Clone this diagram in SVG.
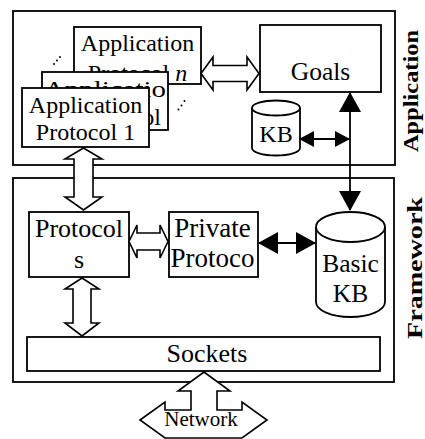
<svg xmlns="http://www.w3.org/2000/svg" width="425" height="439" viewBox="0 0 425 439">
<style>
  .t { font-family: 'Liberation Serif', 'Tinos', 'Times New Roman', 'DejaVu Serif', serif; fill: #000; }
  .box { fill: #fff; stroke: #000; stroke-width: 1.8; }
  .outer { fill: none; stroke: #000; stroke-width: 1.8; }
  .hollow { fill: #fff; stroke: #000; stroke-width: 1.6; stroke-linejoin: miter; }
  .lbl { font-size: 24px; text-anchor: middle; }
  .big { font-size: 25.5px; }
  .big26 { font-size: 26px; }
  .big27 { font-size: 27px; }
  .start { text-anchor: start; }
  .end { text-anchor: end; }
  .side { font-size: 20px; font-weight: bold; text-anchor: middle; }
  .solid { stroke: #000; stroke-width: 1.8; fill: none; }
  .dot { fill: #000; }
</style>
<defs>
  <marker id="ah" markerUnits="userSpaceOnUse" markerWidth="20" markerHeight="22" refX="19" refY="11" orient="auto-start-reverse">
    <path d="M0,0 L20,11 L0,22 z" fill="#000"/>
  </marker>
  <marker id="ahs" markerUnits="userSpaceOnUse" markerWidth="15" markerHeight="16" refX="14" refY="8" orient="auto-start-reverse">
    <path d="M0,0 L15,8 L0,16 z" fill="#000"/>
  </marker>
</defs>
<rect width="425" height="439" fill="#fff"/>

<g id="application-layer">
  <rect class="outer" x="13" y="11" width="382" height="154"/>
  <text class="t side" transform="translate(418,91) rotate(-90)" textLength="122" lengthAdjust="spacingAndGlyphs">Application</text>
</g>
<g id="framework-layer">
  <rect class="outer" x="13" y="178" width="381" height="204"/>
  <text class="t side" transform="translate(422,268) rotate(-90)" textLength="142" lengthAdjust="spacingAndGlyphs">Framework</text>
</g>

<g id="app-protocol-n">
  <rect class="box" x="74" y="27" width="127" height="57"/>
  <text class="t lbl" x="137.5" y="51">Application</text>
  <text class="t lbl" x="137.5" y="81">Protocol <tspan font-style="italic">n</tspan></text>
</g>
<g id="dots">
  <circle class="dot" cx="54" cy="64" r="1"/>
  <circle class="dot" cx="57" cy="60.5" r="1"/>
  <circle class="dot" cx="60" cy="57" r="1"/>
  <circle class="dot" cx="178.5" cy="109.5" r="1"/>
  <circle class="dot" cx="181.5" cy="105.5" r="1"/>
  <circle class="dot" cx="184.5" cy="101" r="1"/>
</g>
<g id="app-protocol-2">
  <rect class="box" x="42" y="72" width="126" height="58"/>
  <text class="t lbl start" x="44" y="97" textLength="122" lengthAdjust="spacingAndGlyphs">Applicatio</text>
  <text class="t lbl end" x="161" y="125">Protocol</text>
</g>
<g id="app-protocol-1">
  <rect class="box" x="22" y="88" width="127" height="59"/>
  <text class="t lbl" x="85.5" y="113">Application</text>
  <text class="t lbl" x="85.5" y="140">Protocol 1</text>
</g>

<g id="goals">
  <rect class="box" x="260" y="25" width="121" height="67"/>
  <text class="t lbl big" x="320.5" y="80">Goals</text>
</g>
<g id="kb">
  <path class="box" d="M252,108 A24,7.5 0 0 1 300,108 L300,148 A24,7.5 0 0 1 252,148 Z"/>
  <path class="solid" d="M252,108 A24,7.5 0 0 0 300,108" stroke-width="1.6"/>
  <text class="t lbl" x="276" y="142">KB</text>
</g>

<g id="protocols">
  <rect class="box" x="29" y="212" width="100" height="65"/>
  <text class="t lbl big26" x="79" y="237">Protocol</text>
  <text class="t lbl big26" x="79" y="268">s</text>
</g>
<g id="private-protocol">
  <rect class="box" x="169" y="212" width="89" height="65"/>
  <text class="t lbl big27" x="212.5" y="237">Private</text>
  <text class="t lbl big27" x="212.5" y="267">Protoco</text>
</g>
<g id="basic-kb">
  <path class="box" d="M316,227 A34.5,15 0 0 1 385,227 L385,302 A34.5,15 0 0 1 316,302 Z"/>
  <path class="solid" d="M316,227 A34.5,15 0 0 0 385,227" stroke-width="1.6"/>
  <text class="t lbl big" x="350.5" y="272">Basic</text>
  <text class="t lbl big" x="350.5" y="302">KB</text>
</g>
<g id="sockets">
  <rect class="box" x="27" y="337" width="353" height="34"/>
  <text class="t lbl big26" x="207" y="362">Sockets</text>
</g>

<g id="connectors">
  <polygon class="hollow" points="201,73.5 213,57 213,65.5 247,65.5 247,57 259,73.5 247,90 247,81.5 213,81.5 213,90"/>
  <polygon class="hollow" points="83.5,148 102,159 93,159 93,197 102,197 83.5,210 65,197 74,197 74,159 65,159"/>
  <polygon class="hollow" points="129,241.5 137,225 137,233 160,233 160,225 168,241.5 160,258 160,250 137,250 137,258"/>
  <polygon class="hollow" points="82,278 99,289 91,289 91,323 99,323 82,336 65,323 73,323 73,289 65,289"/>
  <line class="solid" x1="350" y1="93" x2="350" y2="210" marker-start="url(#ah)" marker-end="url(#ah)"/>
  <line class="solid" x1="300" y1="139" x2="349" y2="139" marker-start="url(#ahs)" marker-end="url(#ahs)"/>
  <line class="solid" x1="259" y1="243" x2="315" y2="243" marker-start="url(#ah)" marker-end="url(#ah)"/>
  <g id="network">
    <polygon class="hollow" points="140,420 165,402 165,410 191,410 191,391 178,391 204,372 230,391 217,391 217,410 242,410 242,402 267,420 242,438 165,438"/>
    <text class="t" x="201" y="426" font-size="21" text-anchor="middle">Network</text>
  </g>
</g>
</svg>
